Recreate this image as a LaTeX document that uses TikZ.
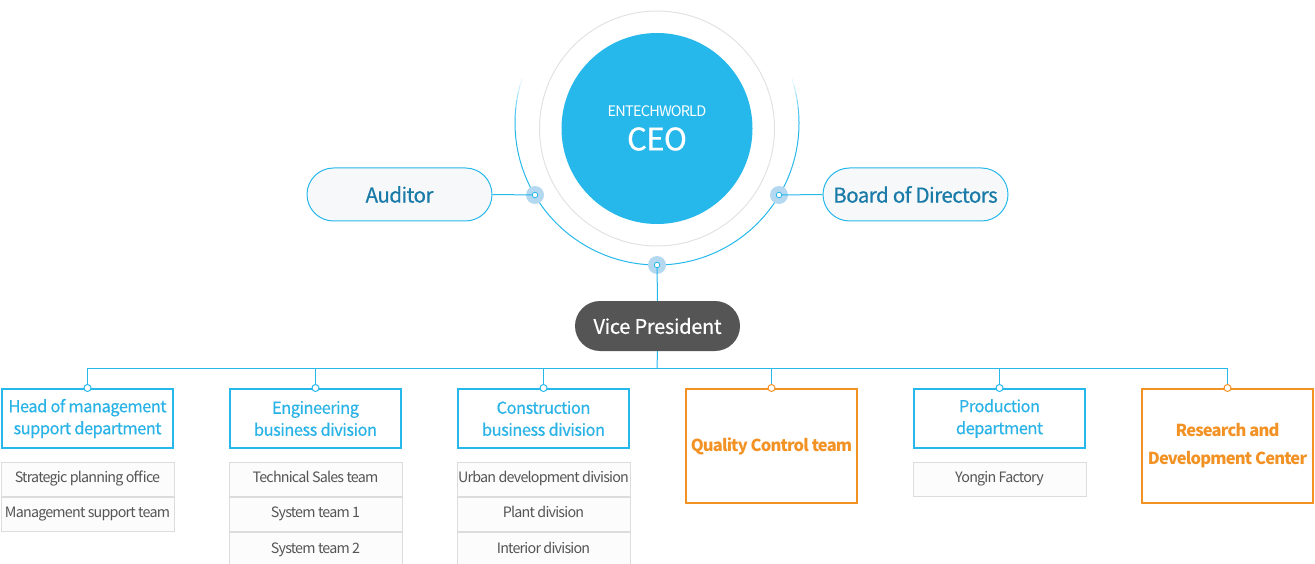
\documentclass[tikz,border=0pt]{standalone}
\usepackage{fontspec}
\setmainfont{Noto Sans CJK KR}
\definecolor{cblue}{HTML}{27B8EB}
\definecolor{tblue}{HTML}{1A7BA8}
\definecolor{hblue}{HTML}{2AB3E6}
\definecolor{corange}{HTML}{F39224}
\definecolor{gline}{HTML}{DCDCDC}
\definecolor{gtext}{HTML}{555555}
\definecolor{ringgray}{HTML}{E2E2E2}
\definecolor{dotblue}{HTML}{B3D8F0}
\definecolor{pillfill}{HTML}{F6F8FA}
\definecolor{vpgray}{HTML}{555555}
\definecolor{subfill}{HTML}{FCFCFC}
\tikzset{
  pill/.style={draw=cblue, line width=1pt, fill=pillfill, rounded corners=26.5pt,
    minimum width=185pt, minimum height=53pt, inner sep=0pt, text=tblue,
    font=\fontsize{20.5}{24}\selectfont\addfontfeature{LetterSpace=-2.5,FakeBold=0.6}},
  vpbox/.style={fill=vpgray, rounded corners=25pt, minimum width=165pt,
    minimum height=50pt, inner sep=0pt, text=white,
    font=\fontsize{20}{24}\selectfont\addfontfeature{LetterSpace=-1.5,FakeBold=0.6}},
  headbox/.style={draw=cblue, line width=2pt, fill=white, minimum width=171pt,
    minimum height=59pt, inner sep=0pt, text=hblue, align=center,
    font=\fontsize{16.5}{22}\selectfont\addfontfeature{LetterSpace=-3.2,FakeBold=0.4}},
  orangebox/.style={draw=corange, line width=2pt, fill=white, minimum width=171pt,
    minimum height=114pt, inner sep=0pt, text=corange, align=center,
    font=\bfseries\fontsize{16.5}{28}\selectfont\addfontfeature{LetterSpace=-5}},
  subbox/.style={draw=gline, line width=0.8pt, fill=subfill, minimum width=173pt,
    minimum height=34.5pt, inner sep=0pt, text=gtext, anchor=north,
    text height=10.5pt, text depth=3.5pt,
    font=\fontsize{14.3}{17}\selectfont\addfontfeature{LetterSpace=-5.5}},
  bigdot/.style={circle, fill=dotblue, minimum size=18pt, inner sep=0pt},
  smalldot/.style={circle, draw=cblue, fill=white, line width=0.8pt, minimum size=5.5pt, inner sep=0pt},
  jdot/.style={circle, draw=#1, fill=white, line width=1pt, minimum size=7pt, inner sep=0pt},
  conn/.style={draw=cblue, line width=1pt},
}
\begin{document}
\begin{tikzpicture}[x=1pt,y=-1pt]
\useasboundingbox (0,0) rectangle (1315,564);
% rings
\draw[ringgray, line width=1pt] (657,128.5) circle (117.5);
\fill[cblue] (657,128.5) circle (95.5);
\coordinate (oc) at (657,123);
\draw[cblue, line width=1pt] (oc) ++(-3:142) arc[start angle=-3, end angle=183, radius=142];
\foreach \a/\o in {183/0.8,186/0.6,189/0.42,192/0.26,195/0.12}{
  \draw[cblue, line width=1pt, opacity=\o] (oc) ++(\a:142) arc[start angle=\a, delta angle=3.2, radius=142];
}
\foreach \a/\o in {-3/0.8,-6/0.6,-9/0.42,-12/0.26,-15/0.12}{
  \draw[cblue, line width=1pt, opacity=\o] (oc) ++(\a:142) arc[start angle=\a, delta angle=-3.2, radius=142];
}
\node[text=white, font=\fontsize{14.5}{17}\selectfont\addfontfeature{LetterSpace=-5.5}] (ent) at (657,111) {ENTECHWORLD};
\node[text=white, font=\fontsize{31}{36}\selectfont\addfontfeature{LetterSpace=-2,FakeBold=0.6}] (ceo) at (657,139) {CEO};
% dots
\node[bigdot] (dlb) at (535,195) {};
\node[bigdot] (drb) at (779,195) {};
\node[bigdot] (dbb) at (657,265) {};
% pills
\node[pill] (aud) at (399.5,194.5) {Auditor};
\node[pill] (bod) at (915.5,194.5) {Board of Directors};
\node[vpbox] (vp) at (657.5,326) {Vice President};
% connectors
\draw[conn] (aud.east) -- (dlb.center);
\draw[conn] (bod.west) -- (drb.center);
\draw[conn] (dbb.center) -- (vp.north);
\node[smalldot] (dl) at (535,195) {};
\node[smalldot] (dr) at (779,195) {};
\node[smalldot] (db) at (657,265) {};
% boxes
\node[headbox] (b1) at (87.5,418.5) {Head of management\\support department};
\node[headbox] (b2) at (315.5,418.5) {Engineering\\business division};
\node[headbox] (b3) at (543.5,418.5) {Construction\\business division};
\node[orangebox] (b4) at (771.5,446) {Quality Control team};
\node[headbox] (b5) at (999.5,418.5) {Production\\department};
\node[orangebox] (b6) at (1227.5,446) {\raisebox{-2pt}{Research and}\\\raisebox{-2pt}{Development Center}};
\coordinate (bus) at (657,368);
\draw[conn] (vp.south) -- (bus);
\foreach \b in {b1,b2,b3,b4,b5,b6}{ \draw[conn] (\b.north) |- (bus); }
\foreach \b/\c in {b1/cblue,b2/cblue,b3/cblue,b4/corange,b5/cblue,b6/corange}{ \node[jdot=\c] at (\b.north) {}; }
% sub items
\node[subbox] (s11) at (87.5,461.5) {Strategic planning office};
\node[subbox] (s12) at (s11.south) {Management support team};
\node[subbox] (s21) at (315.5,461.5) {Technical Sales team};
\node[subbox] (s22) at (s21.south) {System team 1};
\node[subbox] (s23) at (s22.south) {System team 2};
\node[subbox] (s31) at (543.5,461.5) {Urban development division};
\node[subbox] (s32) at (s31.south) {Plant division};
\node[subbox] (s33) at (s32.south) {Interior division};
\node[subbox] (s51) at (999.5,461.5) {Yongin Factory};
\end{tikzpicture}
\end{document}
